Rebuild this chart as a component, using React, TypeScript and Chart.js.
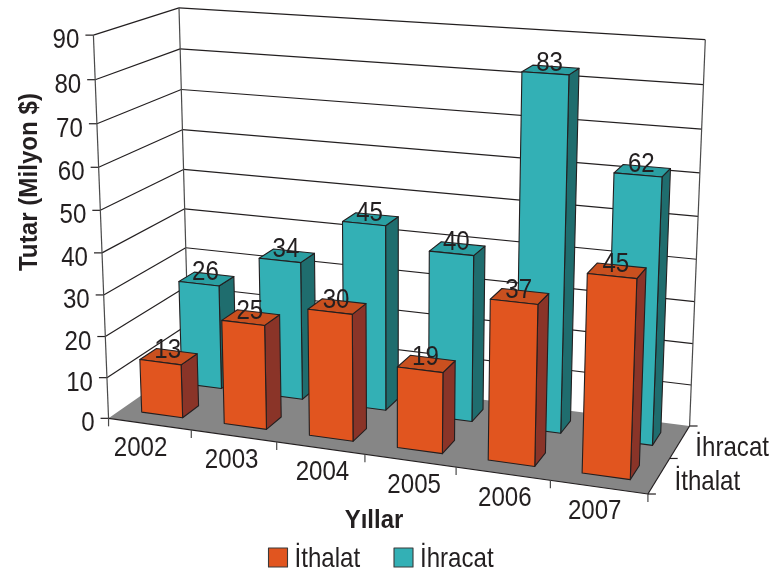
import React, { useEffect, useRef } from "react";
import { Chart, registerables } from "chart.js";

Chart.register(...registerables);

const years = ["2002", "2003", "2004", "2005", "2006", "2007"];
const ithalat = [13, 25, 30, 19, 37, 45];
const ihracat = [26, 34, 45, 40, 83, 62];
const yMax = 90;
const yStep = 10;
const yTitle = "Tutar (Milyon $)";
const xTitle = "Yıllar";

const INK = "#231f20";
const FLOOR = "#868686";
const ORANGE = { front: "#e1551f", side: "#8a3428", top: "#c9501f" };
const TEAL = { front: "#33b0b5", side: "#1f6d6e", top: "#2a9fa2" };
const FS = 28;
const SQUEEZE = 0.86;
const DEPTH_FILL = 0.4;
const GRID_W = 1.2;
const X_LABEL_NUDGE = [-9, -2, 2, 4, 2, -4];

// Camera calibration of the 3D box: [u, v, w] in the unit box -> screen x, y.
const CALIBRATION: number[][] = [
  [0, 0, 0, 110, 419],
  [1 / 6, 0, 0, 190.7, 430.2],
  [2 / 6, 0, 0, 276.7, 442.2],
  [3 / 6, 0, 0, 365, 454.4],
  [4 / 6, 0, 0, 455.7, 467],
  [5 / 6, 0, 0, 550.7, 480.3],
  [1, 0, 0, 648.3, 494],
  [0, 0, 1, 93.3, 36],
  [0, 0, 5 / 9, 100, 207.5],
  [0, 1, 1, 179, 7.5],
  [0, 1, 6 / 9, 182, 130.5],
  [0, 1, 3 / 9, 185.7, 248],
  [1, 1, 1, 705.7, 41],
  [1, 1, 6 / 9, 700, 172],
  [1, 1, 3 / 9, 695, 300.7],
  [1, 1, 0, 690, 425],
  [1, 0.5, 0, 668, 460],
];

function solveCamera(points: number[][]): number[] {
  const n = 11;
  const A: number[][] = Array.from({ length: n }, () => new Array(n + 1).fill(0));
  const add = (row: number[], rhs: number) => {
    for (let i = 0; i < n; i++) {
      for (let j = 0; j < n; j++) A[i][j] += row[i] * row[j];
      A[i][n] += row[i] * rhs;
    }
  };
  for (const [u, v, w, px, py] of points) {
    const x = px / 1000;
    const y = py / 1000;
    add([u, v, w, 1, 0, 0, 0, 0, -x * u, -x * v, -x * w], x);
    add([0, 0, 0, 0, u, v, w, 1, -y * u, -y * v, -y * w], y);
  }
  for (let c = 0; c < n; c++) {
    let p = c;
    for (let r = c + 1; r < n; r++) if (Math.abs(A[r][c]) > Math.abs(A[p][c])) p = r;
    [A[c], A[p]] = [A[p], A[c]];
    for (let r = 0; r < n; r++) {
      if (r === c) continue;
      const f = A[r][c] / A[c][c];
      for (let k = c; k <= n; k++) A[r][k] -= f * A[c][k];
    }
  }
  return A.map((row, i) => row[n] / row[i]);
}

const H = solveCamera(CALIBRATION);
function project(u: number, v: number, w: number): [number, number] {
  const d = H[8] * u + H[9] * v + H[10] * w + 1;
  return [
    (1000 * (H[0] * u + H[1] * v + H[2] * w + H[3])) / d,
    (1000 * (H[4] * u + H[5] * v + H[6] * w + H[7])) / d,
  ];
}

function text(
  ctx: CanvasRenderingContext2D,
  s: string,
  x: number,
  y: number,
  align: CanvasTextAlign,
  opts: { bold?: boolean; size?: number; k?: number; rot?: number } = {}
) {
  const { bold = false, size = FS, k = SQUEEZE, rot = 0 } = opts;
  ctx.save();
  ctx.translate(x, y);
  if (rot) ctx.rotate(rot);
  ctx.scale(k, 1);
  ctx.font = `${bold ? "bold " : ""}${size}px "Liberation Sans", Arial, sans-serif`;
  ctx.fillStyle = INK;
  ctx.textAlign = align;
  ctx.textBaseline = "alphabetic";
  ctx.fillText(s, 0, 0);
  ctx.restore();
}

function poly(
  ctx: CanvasRenderingContext2D,
  pts: [number, number][],
  fill: string | null,
  stroke: string | null = INK,
  lw = 1.1
) {
  ctx.beginPath();
  pts.forEach((p, i) => (i ? ctx.lineTo(p[0], p[1]) : ctx.moveTo(p[0], p[1])));
  ctx.closePath();
  if (fill) {
    ctx.fillStyle = fill;
    ctx.fill();
  }
  if (stroke) {
    ctx.strokeStyle = stroke;
    ctx.lineWidth = lw;
    ctx.lineJoin = "round";
    ctx.stroke();
  }
}

function seg(
  ctx: CanvasRenderingContext2D,
  a: [number, number],
  b: [number, number],
  color = INK,
  lw = GRID_W
) {
  ctx.beginPath();
  ctx.moveTo(a[0], a[1]);
  ctx.lineTo(b[0], b[1]);
  ctx.strokeStyle = color;
  ctx.lineWidth = lw;
  ctx.stroke();
}

const box3d = {
  id: "box3d",
  beforeDatasetsDraw(chart: any) {
    const ctx: CanvasRenderingContext2D = chart.ctx;
    const xs = chart.scales.x;
    const ys = chart.scales.y;
    const n = chart.data.labels.length;
    const uOf = (px: number) => (px - xs.left) / (xs.right - xs.left);
    const wOf = (py: number) => (ys.bottom - py) / (ys.bottom - ys.top);

    ctx.save();
    // floor
    poly(ctx, [project(0, 0, 0), project(1, 0, 0), project(1, 1, 0), project(0, 1, 0)], FLOOR, null);

    // walls & gridlines
    for (const t of ys.ticks) {
      const w = wOf(ys.getPixelForValue(t.value));
      if (w > 0.001) {
        seg(ctx, project(0, 0, w), project(0, 1, w));
        seg(ctx, project(0, 1, w), project(1, 1, w));
      }
      const p = project(0, 0, w);
      seg(ctx, [p[0] - 8, p[1]], p);
      text(ctx, String(t.value), p[0] - 14, p[1] + 13, "right");
    }
    seg(ctx, project(0, 0, 0), project(0, 0, 1), "#4a4a4a");
    seg(ctx, project(0, 1, 0), project(0, 1, 1), "#4a4a4a");
    seg(ctx, project(1, 1, 0), project(1, 1, 1), "#4a4a4a");
    seg(ctx, project(0, 0, 0), project(1, 0, 0));
    seg(ctx, project(1, 0, 0), project(1, 1, 0));

    // x ticks & labels
    for (let i = 0; i <= n; i++) {
      const p = project(i / n, 0, 0);
      seg(ctx, p, [p[0], p[1] + 8], "#4a4a4a");
    }
    chart.data.labels.forEach((label: string, i: number) => {
      const p = project(uOf(xs.getPixelForValue(i)), 0, 0);
      text(ctx, label, p[0] + X_LABEL_NUDGE[i], p[1] + 32, "center");
    });

    // depth ticks & labels
    const rows = chart.data.datasets.length;
    for (let r = 0; r <= rows; r++) {
      const p = project(1, r / rows, 0);
      seg(ctx, p, [p[0] + 8, p[1]]);
    }
    chart.data.datasets.forEach((ds: any, r: number) => {
      const p = project(1, (r + 0.5) / rows, 0);
      text(ctx, ds.label, p[0] + 15.5, p[1] + 14, "left");
    });

    // bars: back row first
    const labels: [string, number, number][] = [];
    for (let r = rows - 1; r >= 0; r--) {
      const ds = chart.data.datasets[r];
      const meta = chart.getDatasetMeta(r);
      const v0 = (r + 0.5 - DEPTH_FILL / 2) / rows;
      const v1 = (r + 0.5 + DEPTH_FILL / 2) / rows;
      meta.data.forEach((bar: any, i: number) => {
        const u0 = uOf(bar.x - bar.width / 2);
        const u1 = uOf(bar.x + bar.width / 2);
        const w = wOf(bar.y);
        poly(ctx, [project(u1, v0, 0), project(u1, v1, 0), project(u1, v1, w), project(u1, v0, w)], ds.sideColor);
        poly(ctx, [project(u0, v0, w), project(u1, v0, w), project(u1, v1, w), project(u0, v1, w)], ds.topColor);
        poly(ctx, [project(u0, v0, 0), project(u1, v0, 0), project(u1, v0, w), project(u0, v0, w)], ds.backgroundColor);
        const c = project((u0 + u1) / 2, (v0 + v1) / 2, w);
        labels.push([String(ds.data[i]), c[0] - 1, c[1] + 1.5]);
      });
    }
    labels.forEach(([s, x, y]) => text(ctx, s, x, y, "center"));

    // axis titles
    text(ctx, xTitle, 374, 528, "center", { bold: true, size: 26, k: 0.92 });
    text(ctx, yTitle, 37, 182, "center", { bold: true, size: 26, k: 0.93, rot: -Math.PI / 2 });

    // legend
    const legendX = [268.5, 394];
    chart.data.datasets.forEach((ds: any, r: number) => {
      poly(
        ctx,
        [
          [legendX[r], 548],
          [legendX[r] + 19, 548],
          [legendX[r] + 19, 567],
          [legendX[r], 567],
        ],
        ds.backgroundColor,
        "#3a3a3a"
      );
      text(ctx, ds.label, legendX[r] + 26, 566.5, "left");
    });
    ctx.restore();
    return false;
  },
};

export default function App() {
  const ref = useRef<HTMLCanvasElement>(null);
  useEffect(() => {
    const chart = new Chart(ref.current!, {
      type: "bar",
      data: {
        labels: years,
        datasets: [
          {
            label: "İthalat",
            data: ithalat,
            backgroundColor: ORANGE.front,
            sideColor: ORANGE.side,
            topColor: ORANGE.top,
          } as any,
          {
            label: "İhracat",
            data: ihracat,
            backgroundColor: TEAL.front,
            sideColor: TEAL.side,
            topColor: TEAL.top,
          } as any,
        ],
      },
      options: {
        responsive: false,
        animation: false,
        layout: { padding: 0 },
        datasets: { bar: { grouped: false, barPercentage: 0.5, categoryPercentage: 1 } },
        scales: {
          x: { display: false, type: "category" },
          y: { display: false, min: 0, max: yMax, ticks: { stepSize: yStep } },
        },
        plugins: { legend: { display: false }, tooltip: { enabled: false } },
      } as any,
      plugins: [box3d as any],
    });
    return () => chart.destroy();
  }, []);
  return (
    <div style={{ position: "absolute", left: 0, top: 0, width: 769, height: 573 }}>
      <canvas ref={ref} width={769} height={573} style={{ display: "block" }} />
    </div>
  );
}
